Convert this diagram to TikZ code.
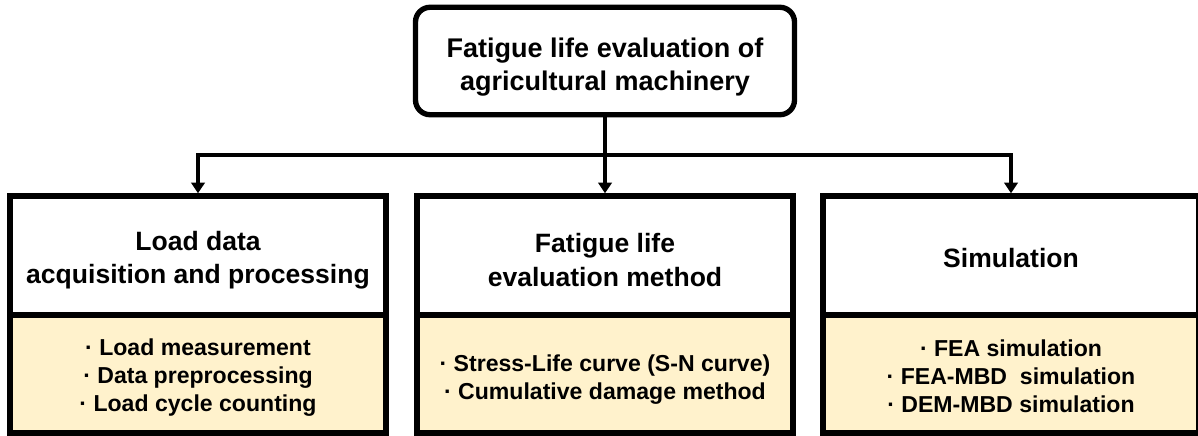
\documentclass[tikz,border=0pt]{standalone}
\usepackage{fontspec}
\setmainfont{Liberation Sans}
\usetikzlibrary{arrows.meta}
\definecolor{beige}{HTML}{FFF2CC}
\begin{document}
\begin{tikzpicture}[x=0.75pt,y=-0.75pt,
 every node/.style={align=center, inner sep=0pt},
 topbox/.style={draw, line width=4pt, rounded corners=11pt, minimum width=284.25pt, minimum height=80.6pt},
 headbox/.style={draw, line width=4pt, fill=white, minimum width=282pt, minimum height=89.25pt},
 listbox/.style={draw, line width=4pt, fill=beige, minimum width=282pt, minimum height=88.5pt},
 toptext/.style={font=\bfseries\fontsize{20.25}{25}\selectfont},
 headtext/.style={font=\bfseries\fontsize{19.9}{25}\selectfont},
 listtext/.style={font=\bfseries\fontsize{17.3}{21}\selectfont},
 link/.style={line width=2.6pt},
 arrow/.style={link, -{Triangle[length=8pt,width=10pt]}}
]
\useasboundingbox (0,0) rectangle (1198,435);
\clip (0,0) rectangle (1198,435);
\node[topbox] (root) at (605,61) {};
\node[toptext] (roott) at ([yshift=-4.5pt]root.center) {Fatigue life evaluation of\\agricultural machinery};

\node[listbox] (l1) at (198,374) {};
\node[listbox] (l2) at (605,374) {};
\node[listbox] (l3) at (1011,374) {};
\node[listtext] (l1t) at ([yshift=-3pt]l1.center) {· Load measurement\\· Data preprocessing\\· Load cycle counting};
\node[listtext] (l2t) at ([yshift=-4pt]l2.center) {· Stress-Life curve (S-N curve)\\· Cumulative damage method};
\node[listtext] (l3t) at ([yshift=-1.5pt]l3.center) {· FEA simulation\\· FEA-MBD~ simulation\\· DEM-MBD simulation};

\node[headbox] (h1) at (198,255.5) {};
\node[headbox] (h2) at (605,255.5) {};
\node[headbox] (h3) at (1011,255.5) {};
\node[headtext] (h1t) at ([yshift=-3.5pt]h1.center) {Load data\\acquisition and processing};
\node[headtext] (h2t) at ([yshift=-3.5pt]h2.center) {Fatigue life\\evaluation method};
\node[headtext] (h3t) at ([yshift=-2pt]h3.center) {Simulation};

\coordinate (hub) at (605,155);
\draw[link] (root.south) -- (hub);
\draw[arrow] (hub) -| (h1.north);
\draw[arrow] (hub) -- (h2.north);
\draw[arrow] (hub) -| (h3.north);
\end{tikzpicture}
\end{document}
